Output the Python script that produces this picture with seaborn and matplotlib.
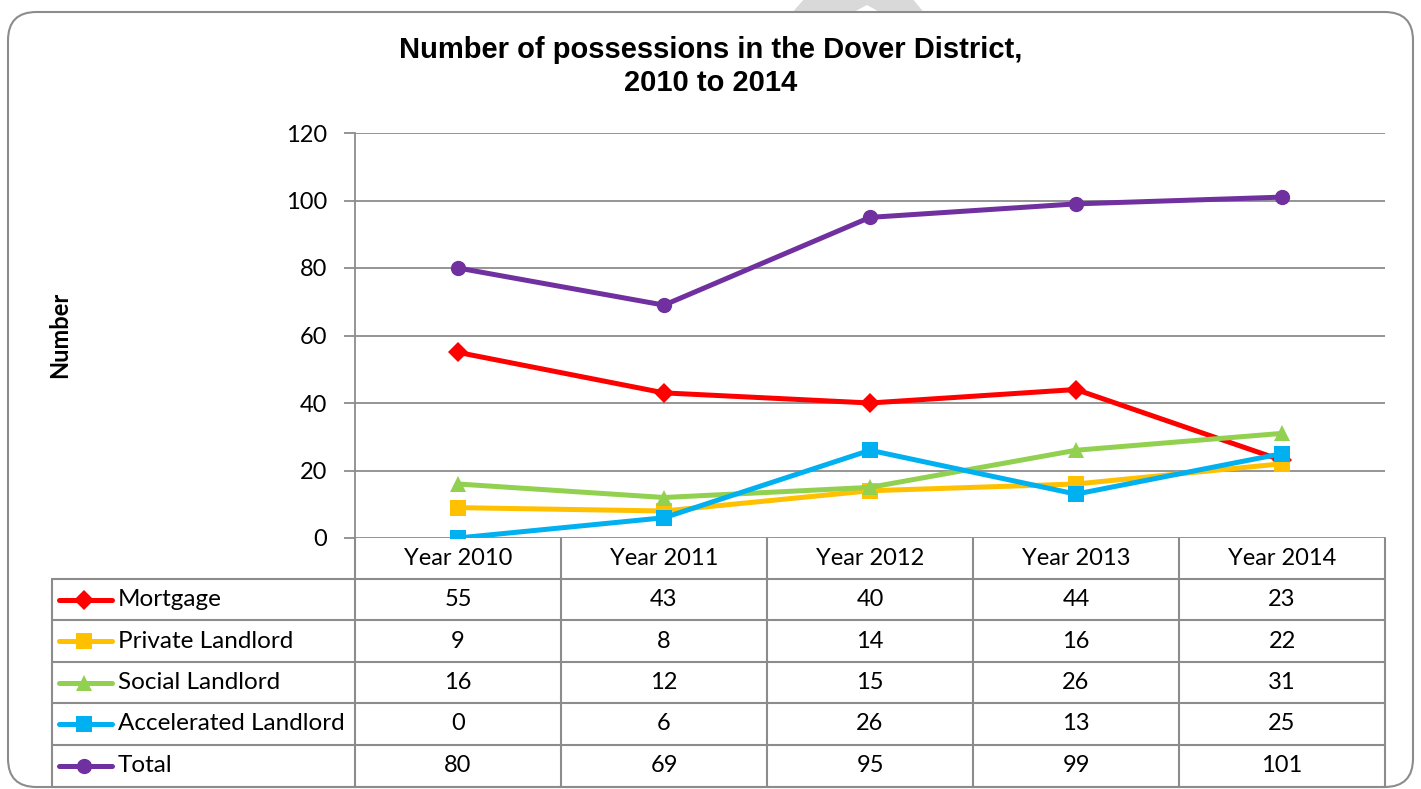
import matplotlib
matplotlib.use("Agg")
import matplotlib.pyplot as plt
import seaborn as sns
import pandas as pd
from matplotlib.lines import Line2D
from matplotlib.patches import FancyBboxPatch, Polygon
from matplotlib.transforms import blended_transform_factory

# ---- data ----
years = ["Year 2010", "Year 2011", "Year 2012", "Year 2013", "Year 2014"]
series_names = ["Mortgage", "Private Landlord", "Social Landlord", "Accelerated Landlord", "Total"]
mortgage = [55, 43, 40, 44, 23]
private_landlord = [9, 8, 14, 16, 22]
social_landlord = [16, 12, 15, 26, 31]
accelerated_landlord = [0, 6, 26, 13, 25]
total = [80, 69, 95, 99, 101]
y_ticks = [0, 20, 40, 60, 80, 100, 120]

values = [mortgage, private_landlord, social_landlord, accelerated_landlord, total]
colors = ["#FF0000", "#FFC000", "#92D050", "#00B0F0", "#7030A0"]
markers = ["D", "s", "^", "s", "o"]
msizes = [10, 11, 12, 11, 11]
LW = 3.6

sns.set_theme(style="white")
plt.rcParams['font.family'] = ['Lato', 'DejaVu Sans']
plt.rcParams['text.color'] = 'black'
plt.rcParams['ytick.color'] = 'black'

W, H = 1421, 789
fig = plt.figure(figsize=(W / 100, H / 100), dpi=100)

def fx(px):
    return px / W

def fy(py):
    return 1 - py / H

# background decoration and rounded border
fig.add_artist(Polygon([[fx(805), fy(-2)], [fx(912), fy(-2)], [fx(925), fy(14)],
                        [fx(883), fy(14)], [fx(867), fy(5)], [fx(850), fy(14)], [fx(791), fy(14)]],
                       closed=True, transform=fig.transFigure, facecolor="#D9D9D9",
                       edgecolor="none", zorder=-3))
fig.add_artist(FancyBboxPatch((fx(8), fy(787)), fx(1413) - fx(8), fy(12) - fy(787),
                              boxstyle="round,pad=0,rounding_size=0.02",
                              transform=fig.transFigure, facecolor="white",
                              edgecolor="#8C8C8C", linewidth=1.5, zorder=-2,
                              mutation_aspect=W / H))

ax = fig.add_axes([fx(355), fy(538), fx(1385) - fx(355), fy(133) - fy(538)])
ax.set_facecolor("none")

x_idx = list(range(len(years)))
for name, vals, c, m, ms in zip(series_names, values, colors, markers, msizes):
    df = pd.DataFrame({"x": x_idx, "y": vals})
    sns.lineplot(data=df, x="x", y="y", ax=ax, color=c, linewidth=LW,
                 marker=m, markersize=ms, markeredgewidth=0, legend=False)

ax.set_xlim(-0.5, len(years) - 0.5)
ax.set_ylim(0, 120)
ax.set_yticks(y_ticks)
ax.set_yticklabels([str(t) for t in y_ticks], fontsize=17)
ax.set_xticks([])
ax.set_xlabel("")
ax.set_ylabel("")
ax.grid(axis="y", color="#8C8C8C", linewidth=1.3)
ax.set_axisbelow(True)
for s in ["top", "right", "bottom"]:
    ax.spines[s].set_visible(False)
ax.spines["left"].set_color("#8C8C8C")
ax.spines["left"].set_linewidth(1.3)
ax.tick_params(axis="y", which="both", left=True, length=8, width=1.3,
               color="#8C8C8C", pad=12, labelsize=17, labelcolor="black")

# title and y label
fig.text(fx(711), fy(50), "Number of possessions in the Dover District,",
         ha="center", va="center", fontsize=21, fontweight="bold",
         family=["Liberation Sans", "DejaVu Sans"])
fig.text(fx(711), fy(83), "2010 to 2014",
         ha="center", va="center", fontsize=21, fontweight="bold",
         family=["Liberation Sans", "DejaVu Sans"])
fig.text(fx(60), fy(335), "Number", rotation=90, ha="center", va="center",
         fontsize=17, fontweight="bold")

# ---- data table ----
tr = blended_transform_factory(ax.transData, fig.transFigure)
gc = "#8C8C8C"
row_edges = [538, 579, 620, 662, 703, 745, 787]
for i in range(len(years) + 1):
    xv = i - 0.5
    fig.add_artist(Line2D([xv, xv], [fy(row_edges[0]), fy(row_edges[-1])], transform=tr,
                          color=gc, linewidth=1.5))
fig.add_artist(Line2D([fx(52), fx(52)], [fy(row_edges[1]), fy(row_edges[-1])],
                      transform=fig.transFigure, color=gc, linewidth=1.5))
for yv in row_edges[1:]:
    fig.add_artist(Line2D([fx(52), fx(1385)], [fy(yv), fy(yv)],
                          transform=fig.transFigure, color=gc, linewidth=1.5))
for i, yr in enumerate(years):
    fig.text(i, fy((row_edges[0] + row_edges[1]) / 2), yr, transform=tr,
             ha="center", va="center", fontsize=17)
for r, (name, vals, c, m, ms) in enumerate(zip(series_names, values, colors, markers, msizes)):
    yc = fy((row_edges[r + 1] + row_edges[r + 2]) / 2)
    fig.add_artist(Line2D([fx(59), fx(112)], [yc, yc], transform=fig.transFigure,
                          color=c, linewidth=LW, solid_capstyle="round"))
    fig.add_artist(Line2D([fx(84)], [yc], transform=fig.transFigure, color=c,
                          marker=m, markersize=ms, markeredgewidth=0, linestyle="none"))
    fig.text(fx(118), yc, name, ha="left", va="center", fontsize=17.5)
    for i, v in enumerate(vals):
        fig.text(i, yc, str(v), transform=tr, ha="center", va="center", fontsize=17)

fig.savefig("out.png", dpi=100, facecolor="white")
